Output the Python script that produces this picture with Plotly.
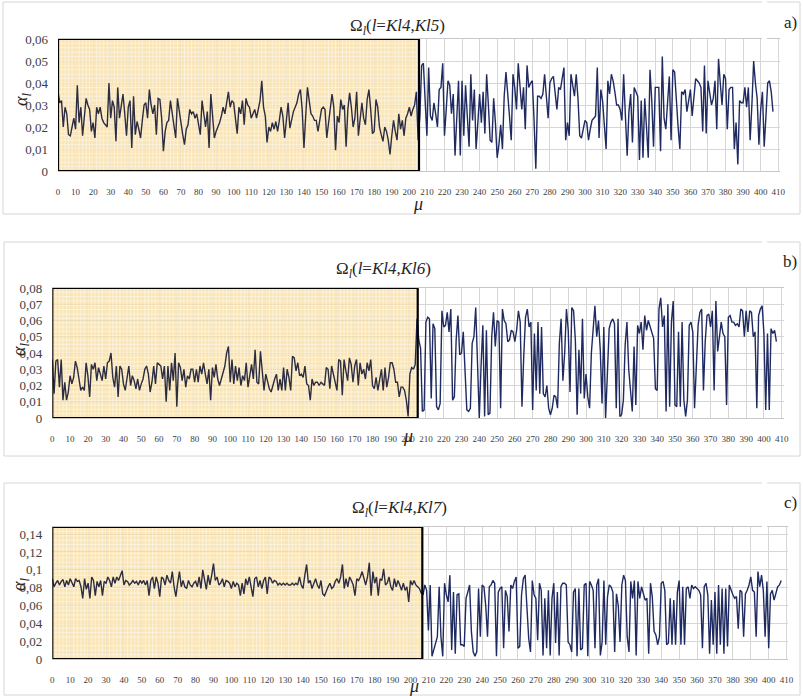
import plotly.graph_objects as go

# ---------------- data ----------------
X_TICKS = list(range(0, 411, 10))

A_LEFT = [
.036,.031,.032,.020,.029,.026,.0165,.016,.020,.024,.019,
.039,.022,.029,.016,.026,.033,.030,.028,.018,.022,.015,
.029,.026,.029,.024,.022,.021,.020,.040,.024,.032,.029,
.0135,.038,.024,.030,.035,.026,.016,.029,.032,.0105,.034,
.0165,.0225,.019,.015,.023,.030,.031,.024,.037,.030,.026,.030,
.0165,.033,.0325,.024,.009,.018,.022,.023,.032,.026,.021,
.015,.033,.026,.022,.0165,.012,.019,.021,.028,.026,.027,
.024,.026,.021,.0165,.032,.025,.020,.027,.0105,.035,.025,
.015,.018,.020,.022,.025,.029,.026,.0315,.036,.029,.032,
.031,.024,.017,.029,.026,.032,.021,.033,.030,.029,.024,.026,
.028,.024,.028,.032,
.041,.029,.025,.013,.020,.018,.022,.019,.0225,.018,
.023,.029,.025,.015,.023,.031,.0195,.024,.027,.029,
.031,.035,.037,.028,.0105,.025,.038,.032,.026,.025,
.023,.023,.018,.023,.028,.029,.028,.015,.022,.026,
.035,.029,.0095,.025,.022,.0325,.028,.030,.011,.028,
.0355,.029,.020,.024,.036,.016,.023,.031,.024,.021,
.0325,.037,.028,.017,.018,.0325,.029,.020,.0165,.0135,
.020,.018,.014,.0075,.016,.023,.018,.014,.026,.019,
.023,.016,.024,.026,.029,.025,.028,.030]

A_RIGHT = [
.036,.014,.025,.048,.049,.032,.016,.047,.025,.023,.031,.026,
.020,.037,.038,.049,.016,.028,.041,.039,.026,.035,.007,.024,
.041,.007,.041,.016,.039,.025,.011,.044,.023,.037,.010,.022,
.035,.022,.036,.017,.044,.030,.014,.013,.033,.022,.006,.012,
.021,.010,.034,.045,.036,.025,.014,.044,.038,.028,.049,.040,
.028,.038,.019,.048,.038,.040,.041,.023,.001,.034,.034,.033,
.035,.044,.032,.024,.040,.042,.043,.034,.028,.038,.037,.042,
.047,.014,.022,.016,.044,.039,.034,.044,.033,.016,.015,.019,
.023,.022,.014,.019,.023,.024,.025,.047,.015,.037,.032,.021,
.010,.041,.035,.044,.041,.036,.030,.030,.028,.023,.044,.025,
.007,.027,.035,.013,.038,.036,.034,.005,.032,.006,.033,.020,
.006,.046,.032,.011,.038,.038,.038,.009,.052,.024,.019,.031,
.043,.014,.046,.045,.030,.020,.010,.036,.035,.037,.027,.032,
.037,.025,.035,.042,.041,.040,.038,.018,.048,.017,.041,.036,
.030,.033,.041,.019,.051,.040,.030,.044,.042,.019,.037,.038,
.038,.010,.022,.003,.032,.031,.031,.038,.029,.038,.014,.030,
.050,.040,.033,.012,.028,.036,.011,.025,.040,.041,.036,.027]

B_LEFT = [
.036,.015,.035,.036,.019,.036,.011,.022,.011,.016,.026,.021,.025,.035,
.031,.025,.017,.019,.017,.034,.026,.013,.033,.030,.034,.023,.031,.027,
.023,.032,.024,.034,.035,.040,.025,.019,.032,.013,.032,.030,.021,.017,
.024,.032,.020,.026,.023,.018,.024,.017,.021,.024,.030,.032,.027,.016,
.022,.032,.021,.034,.033,.032,.024,.032,.010,.032,.017,.034,.023,.040,
.007,.034,.031,.023,.030,.019,.026,.024,.030,.030,.022,.030,.022,.032,
.027,.034,.027,.021,.030,.011,.031,.025,.033,.024,.020,.024,.029,.032,
.040,.044,.022,.036,.021,.032,.023,.031,.020,.026,.023,.034,.019,.025,
.033,.024,.042,.022,.021,.041,.030,.017,.027,.022,.018,.016,.021,.024,
.027,.017,.024,.017,.031,.017,.030,.025,.017,.038,.037,.029,.034,.026,
.027,.025,.032,.021,.020,.011,.024,.020,.022,.022,.020,.022,.021,.020,
.031,.030,.018,.032,.027,.022,.017,.036,.035,.014,.036,.029,.023,.037,
.033,.022,.032,.036,.020,.034,.027,.030,.024,.034,.029,.036,.020,.018,
.025,.017,.023,.030,.017,.031,.019,.025,.034,.034,.030,.022,.022,
.013,.019,.019,.017,.011,.001,.027,.031,.030]

B_RIGHT = [
.033,.061,
.048,.043,.004,.005,.059,.062,.061,.012,
.058,.055,.007,.005,.009,.066,.056,.057,.065,
.053,.067,.011,.013,.048,.063,.039,.040,.053,.026,
.005,.004,.006,.046,.050,.068,.032,.000,.032,.057,
.001,.054,.002,.003,.050,.065,.044,.060,
.059,.006,.067,.060,.058,.047,.048,.054,.053,
.047,.054,.066,.059,.007,.038,.062,.067,.056,.059,
.005,.052,.017,.059,.015,.056,.015,.013,.020,
.006,.002,.006,.014,.013,.006,.046,.061,.023,
.040,.067,.054,.016,.068,.066,.048,.002,.042,.015,
.061,.012,.027,.013,.006,.040,.054,.069,.050,.060,
.042,.009,.056,.000,.027,.055,.059,.061,.058,
.006,.061,.001,.002,.011,.045,.059,.030,.015,
.004,.044,.008,.057,.052,.059,.042,.063,.054,.060,
.056,.052,.049,.018,.017,.067,.074,.056,
.063,.004,.070,.007,.059,.072,.008,.007,.053,.007,
.059,.011,.001,.011,.057,.059,.053,.006,.038,
.057,.065,.067,.017,.047,.063,.064,.056,.066,.017,
.072,.041,.049,.059,.052,.050,.008,.062,.063,
.059,.059,.057,.058,.056,.067,.066,.050,.066,
.053,.066,.065,.050,.053,.006,.063,.067,.069,
.052,.005,.052,.005,.055,.052,.054,.047]

C_LEFT = [
.090,.081,.085,.088,.083,.087,.089,.081,.088,.083,.090,.085,.081,.090,
.087,.088,.081,.068,.090,.078,.085,.068,.092,.088,.071,.087,.081,.088,
.071,.087,.085,.092,.088,.081,.092,.085,.092,.088,.094,.099,.083,.088,
.087,.083,.085,.088,.085,.087,.083,.088,.085,.088,.083,.088,.071,.088,
.092,.079,.092,.085,.070,.092,.090,.083,.094,.088,.085,.098,.081,.070,
.085,.098,.081,.088,.081,.079,.088,.083,.081,.085,.087,.081,.092,.079,
.100,.088,.078,.094,.083,.094,.107,.088,.092,.083,.085,.090,.081,.088,
.087,.085,.079,.087,.081,.085,.083,.071,.085,.073,.090,.083,.092,.081,
.070,.090,.092,.081,.088,.079,.088,.092,.073,.092,.090,.085,.088,.087,
.083,.085,.083,.085,.083,.085,.083,.083,.085,.083,.085,.083,.092,.083,
.079,.094,.106,.085,.088,.079,.085,.090,.083,.079,.088,.073,.071,.077,
.081,.085,.079,.081,.087,.090,.085,.092,.106,.079,.090,.081,.092,.088,
.083,.071,.090,.088,.092,.098,.090,.083,.092,.108,.071,.098,.085,.092,
.071,.090,.088,.101,.083,.085,.092,.081,.077,.090,.081,.088,.083,.077,
.085,.077,.081,.064,.088,.083,.088,.083]

C_RIGHT = [
.081,.079,.074,
.072,.083,.077,.032,.083,.003,.010,.016,.025,
.081,.025,.003,.085,.072,.064,.094,.010,.075,
.006,.072,.073,.016,.016,.014,.068,.075,
.083,.031,.008,.003,.008,.079,.025,.083,.081,.060,
.025,.081,.083,.088,.085,.003,.075,.079,.081,
.012,.077,.070,.031,.083,.079,.087,.092,.012,.014,
.072,.090,.094,.057,.023,.008,.088,.072,.068,.021,
.085,.077,.004,.068,.012,.077,.004,.068,.085,.018,
.075,.004,.081,.085,.085,.083,.019,.016,
.008,.075,.079,.003,.079,.010,.012,.083,.085,
.003,.087,.083,.077,.012,.083,.090,.004,.019,.088,
.016,.070,.083,.081,.075,.008,.073,.060,.019,.083,
.094,.088,.025,.008,.087,.068,.088,.004,.087,
.068,.081,.073,.066,.068,.006,.085,.070,.031,.027,
.016,.025,.085,.087,.077,.016,.018,.068,.016,.066,
.016,.075,.088,.016,.081,.016,.079,.081,.068,.083,
.079,.081,.079,.077,.072,.012,
.081,.085,.072,.006,.066,.016,.075,.006,.083,.016,
.079,.006,.079,.014,.083,.077,.072,.068,.070,
.034,.077,.075,.025,.073,.077,.083,.092,.077,
.075,.025,.098,.081,.094,.077,.025,.087,.012,.073,
.077,.066,.073,.081,.083,.088]

A_YTICKS = [0, 0.01, 0.02, 0.03, 0.04, 0.05, 0.06]
A_YTEXT = ["0", "0,01", "0,02", "0,03", "0,04", "0,05", "0,06"]
B_YTICKS = [0, 0.01, 0.02, 0.03, 0.04, 0.05, 0.06, 0.07, 0.08]
B_YTEXT = ["0", "0,01", "0,02", "0,03", "0,04", "0,05", "0,06", "0,07", "0,08"]
C_YTICKS = [0, 0.02, 0.04, 0.06, 0.08, 0.1, 0.12, 0.14]
C_YTEXT = ["0", "0,02", "0,04", "0,06", "0,08", "0,1", "0,12", "0,14"]

TITLES = ["Kl5", "Kl6", "Kl7"]
LABELS = ["a)", "b)", "c)"]

# ---------------- layout helpers ----------------
W, H = 803, 696
def PX(x): return x / W
def PY(y): return 1 - y / H

SERIF = "Liberation Serif"
GRID = "#d6d6d6"
NAVY = "#1f2a60"
DARK = "#2c2d40"
TXT = "#404040"

panels = [
    dict(l=A_LEFT, r=A_RIGHT, xd=(58, 780), yd=(39, 171), ymax=0.06, yt=A_YTICKS, ytx=A_YTEXT,
         box=205.5, frame=(3, 2, 800, 214), tx=348, ty=27, al=(22, 100), mu=(418, 204), lab=22, gap=(2, 41)),
    dict(l=B_LEFT, r=B_RIGHT, xd=(52.3, 783.5), yd=(288, 418), ymax=0.08, yt=B_YTICKS, ytx=B_YTEXT,
         box=205.4, frame=(4, 242, 800, 456), tx=334, ty=270, al=(20, 350), mu=(408, 436), lab=262, gap=(242, 286)),
    dict(l=C_LEFT, r=C_RIGHT, xd=(52.3, 788.4), yd=(527, 659), ymax=0.148, yt=C_YTICKS, ytx=C_YTEXT,
         box=206.6, frame=(4, 483, 800, 695), tx=350, ty=509, al=(20, 585), mu=(414, 686), lab=502, gap=(483, 528)),
]

fig = go.Figure()
shapes = []
annotations = []
layout_axes = {}

for k, p in enumerate(panels):
    sfx = "" if k == 0 else str(k + 1)
    xa, ya = "x" + sfx, "y" + sfx
    left, right = p["l"], p["r"]
    nl = len(left)
    fig.add_trace(go.Scatter(x=list(range(nl)), y=left, mode="lines",
                             line=dict(color=DARK, width=1.4), xaxis=xa, yaxis=ya,
                             hoverinfo="skip", showlegend=False))
    fig.add_trace(go.Scatter(x=list(range(nl - 1, nl + len(right))), y=[left[-1]] + right,
                             mode="lines", line=dict(color=NAVY, width=1.4), xaxis=xa, yaxis=ya,
                             hoverinfo="skip", showlegend=False))

    layout_axes["xaxis" + sfx] = dict(
        domain=[PX(p["xd"][0]), PX(p["xd"][1])], range=[0, 411], anchor=ya, automargin=False,
        tickmode="array", tickvals=X_TICKS, ticktext=[str(v) for v in X_TICKS],
        showgrid=True, gridcolor=GRID, gridwidth=1, zeroline=False,
        showline=True, linecolor="#c8c8c8", linewidth=1, mirror=True, ticks="",
        tickfont=dict(family=SERIF, size=9, color=TXT), ticklabelstandoff=12, fixedrange=True)
    layout_axes["yaxis" + sfx] = dict(
        domain=[PY(p["yd"][1]), PY(p["yd"][0])], range=[0, p["ymax"]], anchor=xa, automargin=False,
        tickmode="array", tickvals=p["yt"], ticktext=p["ytx"],
        showgrid=True, gridcolor=GRID, gridwidth=1, zeroline=False, showline=False, ticks="",
        tickfont=dict(family=SERIF, size=13, color=TXT), ticklabelstandoff=9, fixedrange=True)

    # yellow highlighted region
    bx, ym = p["box"], p["ymax"]
    shapes.append(dict(type="rect", xref=xa, yref=ya, x0=0, x1=bx, y0=0, y1=ym,
                       fillcolor="#f7d895", opacity=0.68, line=dict(width=0), layer="between"))
    # fine light texture inside the highlighted region (decoration only)
    step_x = 2.0
    nx = int(bx / step_x)
    for j in range(1, nx + 1):
        xv = j * step_x
        shapes.append(dict(type="line", xref=xa, yref=ya, x0=xv, x1=xv, y0=0, y1=ym,
                           line=dict(color="white", width=1), opacity=0.45, layer="between"))
    ny = 30
    for j in range(1, ny):
        yv = ym * j / ny
        shapes.append(dict(type="line", xref=xa, yref=ya, x0=0, x1=bx, y0=yv, y1=yv,
                           line=dict(color="white", width=1), opacity=0.45, layer="between"))
    # black frame of the region
    shapes.append(dict(type="rect", xref=xa, yref=ya, x0=0, x1=bx, y0=0, y1=ym,
                       fillcolor="rgba(0,0,0,0)", line=dict(color="black", width=2.2), layer="above"))
    # outer panel frame
    fx0, fy0, fx1, fy1 = p["frame"]
    shapes.append(dict(type="rect", xref="paper", yref="paper", x0=PX(fx0), x1=PX(fx1),
                       y0=PY(fy1), y1=PY(fy0), line=dict(color=GRID, width=1),
                       fillcolor="rgba(0,0,0,0)", layer="above"))
    # small white break in the frame next to the panel letter
    shapes.append(dict(type="rect", xref="paper", yref="paper", x0=PX(762), x1=PX(767),
                       y0=PY(p["gap"][1]), y1=PY(p["gap"][0] - 1), line=dict(width=0),
                       fillcolor="white", layer="above"))

    annotations.append(dict(
        xref="paper", yref="paper", x=PX(p["tx"]), y=PY(p["ty"]), xanchor="left", yanchor="middle",
        text="Ω<sub><i>l</i></sub>(<i>l</i>=<i>Kl4</i>,<i>" + TITLES[k] + "</i>)",
        showarrow=False, font=dict(family=SERIF, size=17, color="#262626")))
    annotations.append(dict(
        xref="paper", yref="paper", x=PX(799), y=PY(p["lab"]), xanchor="right", yanchor="middle",
        text=LABELS[k], showarrow=False, font=dict(family=SERIF, size=17, color="#262626")))
    annotations.append(dict(
        xref="paper", yref="paper", x=PX(p["al"][0]), y=PY(p["al"][1]), xanchor="center", yanchor="middle",
        text="<i>α<sub>l</sub></i>", textangle=-90, showarrow=False,
        font=dict(family=SERIF, size=18, color="#262626")))
    annotations.append(dict(
        xref="paper", yref="paper", x=PX(p["mu"][0]), y=PY(p["mu"][1]), xanchor="center", yanchor="middle",
        text="<i>μ</i>", showarrow=False, font=dict(family=SERIF, size=18, color="#262626")))

fig.update_layout(
    width=W, height=H, margin=dict(l=0, r=0, t=0, b=0, pad=0),
    paper_bgcolor="white", plot_bgcolor="white",
    shapes=shapes, annotations=annotations, showlegend=False,
    **layout_axes)

fig.write_html("out.html", config={"displayModeBar": False},
               post_script="document.body.style.margin='0';document.body.style.padding='0';"
                           "document.documentElement.style.overflow='hidden';")
